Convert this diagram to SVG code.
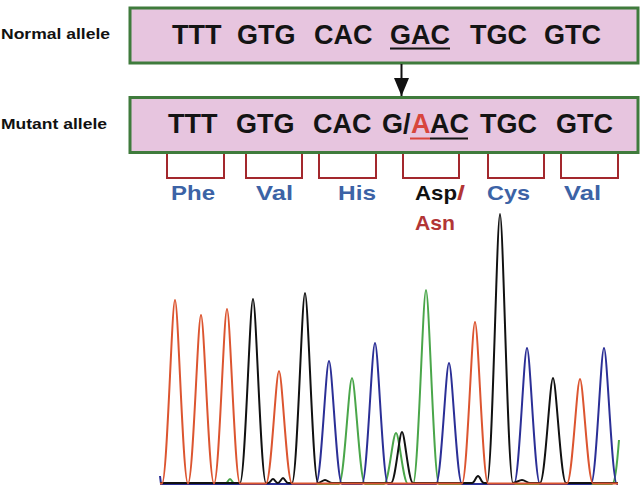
<svg xmlns="http://www.w3.org/2000/svg" width="640" height="487" viewBox="0 0 640 487">
<style>
.box{fill:#e7c5df;stroke:#3f7b3c;stroke-width:3}
.lab{font-family:"Liberation Sans",Arial,sans-serif;font-weight:bold;font-size:15.5px;fill:#111}
.seq{font-family:"Liberation Sans",Arial,sans-serif;font-weight:bold;font-size:27px;fill:#141414}
.aa{font-family:"Liberation Sans",Arial,sans-serif;font-weight:bold;font-size:21px;fill:#3c63a6}
.red{fill:#d8453c}
.dred{fill:#b23535}
.blk{fill:#111}
.ul{stroke:#141414;stroke-width:2}
.br{fill:none;stroke:#a3282d;stroke-width:2}
.tr{fill:none;stroke-width:2;stroke-linejoin:round}
</style>
<defs>
<marker id="ah" viewBox="0 0 18 15" refX="18" refY="7.5" markerWidth="18" markerHeight="15" markerUnits="userSpaceOnUse" orient="auto">
<path d="M0,0 L18,7.5 L0,15 z" fill="#111"/>
</marker>
</defs>
<rect width="640" height="487" fill="#fff"/>

<g id="label-normal"><text class="lab" x="1" y="39" textLength="109" lengthAdjust="spacingAndGlyphs">Normal allele</text></g>
<g id="label-mutant"><text class="lab" x="1" y="128.5" textLength="106" lengthAdjust="spacingAndGlyphs">Mutant allele</text></g>

<g id="normal-allele">
<rect class="box" x="130" y="8" width="508" height="55"/>
<text class="seq" y="44"><tspan x="172">TTT</tspan><tspan x="237">GTG</tspan><tspan x="314">CAC</tspan><tspan x="390">GAC</tspan><tspan x="470">TGC</tspan><tspan x="544">GTC</tspan></text>
<line class="ul" x1="390" y1="48.5" x2="450" y2="48.5"/>
</g>

<g id="mutant-allele">
<rect class="box" x="130" y="97.5" width="508" height="55"/>
<text class="seq" y="133"><tspan x="168">TTT</tspan><tspan x="236">GTG</tspan><tspan x="313">CAC</tspan><tspan x="382">G/</tspan><tspan x="411" class="red">A</tspan><tspan x="430">AC</tspan><tspan x="480">TGC</tspan><tspan x="556">GTC</tspan></text>
<line x1="410" y1="138.5" x2="430" y2="138.5" stroke="#d8453c" stroke-width="2"/>
<line class="ul" x1="430" y1="138.5" x2="468" y2="138.5"/>
</g>

<g id="connectors">
<line x1="401.5" y1="64" x2="401.5" y2="96" stroke="#111" stroke-width="2" marker-end="url(#ah)"/>
</g>

<g id="codon-brackets">
<path class="br" d="M167,154 V178 H224 V154"/>
<path class="br" d="M246,154 V178 H302 V154"/>
<path class="br" d="M319,154 V178 H376 V154"/>
<path class="br" d="M403,154 V178 H459 V154"/>
<path class="br" d="M488,154 V178 H544 V154"/>
<path class="br" d="M561,154 V178 H618 V154"/>
</g>

<g id="amino-acids">
<text class="aa" x="171" y="199.5" textLength="44" lengthAdjust="spacingAndGlyphs">Phe</text>
<text class="aa" x="256" y="199.5" textLength="37" lengthAdjust="spacingAndGlyphs">Val</text>
<text class="aa" x="338" y="199.5" textLength="38" lengthAdjust="spacingAndGlyphs">His</text>
<text class="aa blk" x="415" y="199.5" textLength="42" lengthAdjust="spacingAndGlyphs">Asp</text>
<text class="aa dred" x="457" y="199.5" textLength="8" lengthAdjust="spacingAndGlyphs">/</text>
<text class="aa dred" x="415" y="229.5" textLength="40" lengthAdjust="spacingAndGlyphs">Asn</text>
<text class="aa" x="487" y="199.5" textLength="43" lengthAdjust="spacingAndGlyphs">Cys</text>
<text class="aa" x="564" y="199.5" textLength="37" lengthAdjust="spacingAndGlyphs">Val</text>
</g>

<g id="chromatogram">
<path class="tr" stroke="#4aa64a" d="M160,484 L225,484 C227,484 228.5,479 230,479 C231.5,479 233,484 235,484 L339,484 C344.2,484 348.8,378 352,378 C355.2,378 359.8,484 365,484 L384,484 C388.8,484 392.8,433 396,433 C399.2,433 403.2,484 408,484 L413,484 C418.2,484 422.8,290 426,290 C429.2,290 433.8,484 439,484 L612,484 C615,484 617,465 619,440"/>
<path class="tr" stroke="#2b2f96" d="M160,476 L161,484 L316,484 C321.2,484 325.8,361 329,361 C332.2,361 336.8,484 342,484 L362,484 C367.2,484 371.8,343 375,343 C378.2,343 382.8,484 388,484 L436,484 C441.2,484 445.8,363 449,363 C452.2,363 456.8,484 462,484 L514,484 C519.2,484 523.8,348 527,348 C530.2,348 534.8,484 540,484 L591,484 C596.2,484 600.8,348 604,348 C607.2,348 611.8,484 617,484 L618,484"/>
<path class="tr" stroke="#111" d="M160,483 L240,483 C245.2,483 249.8,299 253,299 C256.2,299 260.8,483 266,483 L268,483 C270,483 271.5,479 273,479 C274.5,479 276,483 278,483 C280,483 281.5,478 283,478 C284.5,478 286,483 288,483 L292,483 C297.2,483 301.8,293 305,293 C308.2,293 312.8,483 318,483 C320,483 323,480 325,480 C327,480 330,483 332,483 L391,483 C395.4,483 399.3,432 402,432 C404.7,432 408.6,483 413,483 L472,483 C474.5,483 476,476 478,476 C480,476 481.5,483 484,483 L487,483 C492.2,483 496.8,214 500,214 C503.2,214 507.8,483 513,483 C516,483 519,480 522,480 C525,480 527,483 530,483 L540,483 C545.2,483 549.8,378 553,378 C556.2,378 560.8,483 566,483 L618,483"/>
<path class="tr" stroke="#dc5530" d="M160,483.5 L162,483.5 C167.2,483.5 171.8,300 175,300 C178.2,300 182.8,483.5 188,483.5 C193.2,483.5 197.8,315 201,315 C204.2,315 208.8,483.5 214,483.5 C219.2,483.5 223.8,309 227,309 C230.2,309 234.8,483.5 240,483.5 L266,483.5 C271.2,483.5 275.8,371 279,371 C282.2,371 286.8,483.5 292,483.5 L462,483.5 C467.2,483.5 471.8,322 475,322 C478.2,322 482.8,483.5 488,483.5 L567,483.5 C572.2,483.5 576.8,379 580,379 C583.2,379 587.8,483.5 593,483.5 L618,483.5"/>
</g>
</svg>
